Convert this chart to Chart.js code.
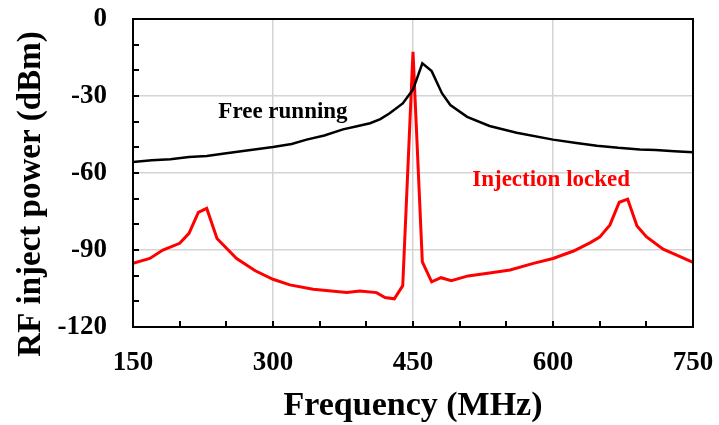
<!DOCTYPE html>
<html>
<head>
<meta charset="utf-8">
<script src="https://cdn.jsdelivr.net/npm/chart.js@4.4.1/dist/chart.umd.min.js"></script>
<style>
  html, body { margin: 0; padding: 0; background: #fff; }
  #wrap { width: 719px; height: 425px; }
</style>
</head>
<body>
<div id="wrap"><canvas id="chart" width="719" height="425"></canvas></div>
<script>
// datos
const freeFreq = [150, 170, 190, 210, 229, 250, 270, 300, 320, 336, 355, 375, 390, 404, 415, 425, 439, 450, 460, 470, 481, 490, 508, 532, 561, 600, 625, 647, 670, 693, 710, 730, 750];
const freePower = [-55.7, -55.0, -54.6, -53.8, -53.4, -52.3, -51.3, -49.9, -48.7, -47.0, -45.4, -43.0, -41.8, -40.6, -39.0, -36.7, -32.9, -27.5, -17.3, -20.3, -28.9, -33.5, -38.1, -41.7, -44.3, -47.0, -48.3, -49.4, -50.2, -50.8, -51.0, -51.5, -51.9];

const lockFreq = [150, 168, 182, 200, 210, 220, 229, 240, 261, 281, 300, 318, 343, 379, 393, 411, 420, 430, 439, 450, 460, 470, 480, 491, 509, 532, 554, 579, 600, 622, 640, 650, 661, 671, 680, 690, 700, 718, 732, 750];
const lockPower = [-95.2, -93.3, -90.0, -87.4, -83.5, -75.3, -73.8, -85.5, -93.3, -98.1, -101.4, -103.6, -105.3, -106.6, -106.0, -106.6, -108.5, -109.0, -103.9, -12.8, -94.6, -102.4, -100.8, -102.0, -100.1, -99.0, -97.8, -95.2, -93.3, -90.4, -87.1, -85.0, -80.2, -71.4, -70.2, -80.6, -84.8, -89.7, -91.9, -94.8];

const xTickLabels = [150, 300, 450, 600, 750];
const yTickLabels = [0, -30, -60, -90, -120];

const FONT = '"Liberation Serif", "Times New Roman", serif';

const toPoints = (xs, ys) => xs.map((x, i) => ({ x: x, y: ys[i] }));

// fondo blanco, marco negro, marcas interiores y textos
const framePlugin = {
    id: 'frame',
    beforeDraw(chart) {
        const ctx = chart.ctx;
        ctx.save();
        ctx.fillStyle = '#fff';
        ctx.fillRect(0, 0, chart.width, chart.height);
        ctx.restore();
    },
    afterDraw(chart) {
        const { ctx, chartArea: a, scales } = chart;
        ctx.save();
        ctx.strokeStyle = '#000';
        ctx.lineWidth = 2;
        // marcas en el eje x (cada 50 MHz)
        scales.x.ticks.forEach(t => {
            const px = Math.round(scales.x.getPixelForValue(t.value));
            ctx.beginPath();
            ctx.moveTo(px, a.bottom);
            ctx.lineTo(px, a.bottom - 6);
            ctx.stroke();
        });
        // marcas en el eje y (cada 10 dB)
        scales.y.ticks.forEach(t => {
            const py = Math.round(scales.y.getPixelForValue(t.value));
            ctx.beginPath();
            ctx.moveTo(a.left, py);
            ctx.lineTo(a.left + 6, py);
            ctx.stroke();
        });
        ctx.strokeRect(a.left, a.top, a.right - a.left, a.bottom - a.top);

        // etiquetas de las curvas
        ctx.font = 'bold 23px ' + FONT;
        ctx.textAlign = 'center';
        ctx.textBaseline = 'middle';
        ctx.fillStyle = '#000';
        ctx.fillText('Free running', scales.x.getPixelForValue(310.7), scales.y.getPixelForValue(-36.3));
        ctx.fillStyle = '#ff0000';
        ctx.fillText('Injection locked', scales.x.getPixelForValue(598), scales.y.getPixelForValue(-62.8));

        // titulo del eje y (desplazado hacia abajo como en la figura)
        ctx.fillStyle = '#000';
        ctx.font = 'bold 33px ' + FONT;
        ctx.translate(31, 194);
        ctx.rotate(-Math.PI / 2);
        ctx.fillText('RF inject power (dBm)', 0, 0);
        ctx.restore();
    }
};

new Chart(document.getElementById('chart'), {
    type: 'line',
    data: {
        datasets: [
            { label: 'Free running', data: toPoints(freeFreq, freePower), borderColor: '#000', borderWidth: 2.5, pointRadius: 0, tension: 0, fill: false },
            { label: 'Injection locked', data: toPoints(lockFreq, lockPower), borderColor: '#ff0000', borderWidth: 3, pointRadius: 0, tension: 0, fill: false }
        ]
    },
    options: {
        responsive: false,
        animation: false,
        devicePixelRatio: 1,
        layout: { padding: { left: 0, top: 19, right: 26, bottom: 0 } },
        plugins: { legend: { display: false }, tooltip: { enabled: false } },
        scales: {
            x: {
                type: 'linear',
                min: 150, max: 750,
                afterFit: (s) => { s.height = 98; s.paddingLeft = 0; s.paddingRight = 0; },
                border: { display: false },
                grid: {
                    drawTicks: false,
                    color: (c) => (c.tick && xTickLabels.includes(c.tick.value) && c.tick.value !== 150 && c.tick.value !== 750) ? '#d4d4d4' : 'rgba(0,0,0,0)',
                    lineWidth: 1.5
                },
                ticks: {
                    stepSize: 50,
                    autoSkip: false,
                    maxRotation: 0,
                    padding: 20,
                    color: '#000',
                    font: { family: FONT, size: 27, weight: 'bold' },
                    callback: (v) => xTickLabels.includes(v) ? String(v) : ''
                },
                title: {
                    display: true,
                    text: 'Frequency (MHz)',
                    color: '#000',
                    font: { family: FONT, size: 34, weight: 'bold', lineHeight: 1 },
                    padding: { top: 0, bottom: 2 }
                }
            },
            y: {
                min: -120, max: 0,
                afterFit: (s) => { s.width = 133; s.paddingTop = 0; s.paddingBottom = 0; },
                border: { display: false },
                grid: {
                    drawTicks: false,
                    color: (c) => (c.tick && yTickLabels.includes(c.tick.value) && c.tick.value !== 0 && c.tick.value !== -120) ? '#d4d4d4' : 'rgba(0,0,0,0)',
                    lineWidth: 1.5
                },
                ticks: {
                    stepSize: 10,
                    autoSkip: false,
                    padding: 26,
                    color: '#000',
                    font: { family: FONT, size: 27, weight: 'bold' },
                    callback: (v) => yTickLabels.includes(v) ? String(v) : ''
                },
                title: { display: false }
            }
        }
    },
    plugins: [framePlugin]
});
</script>
</body>
</html>
